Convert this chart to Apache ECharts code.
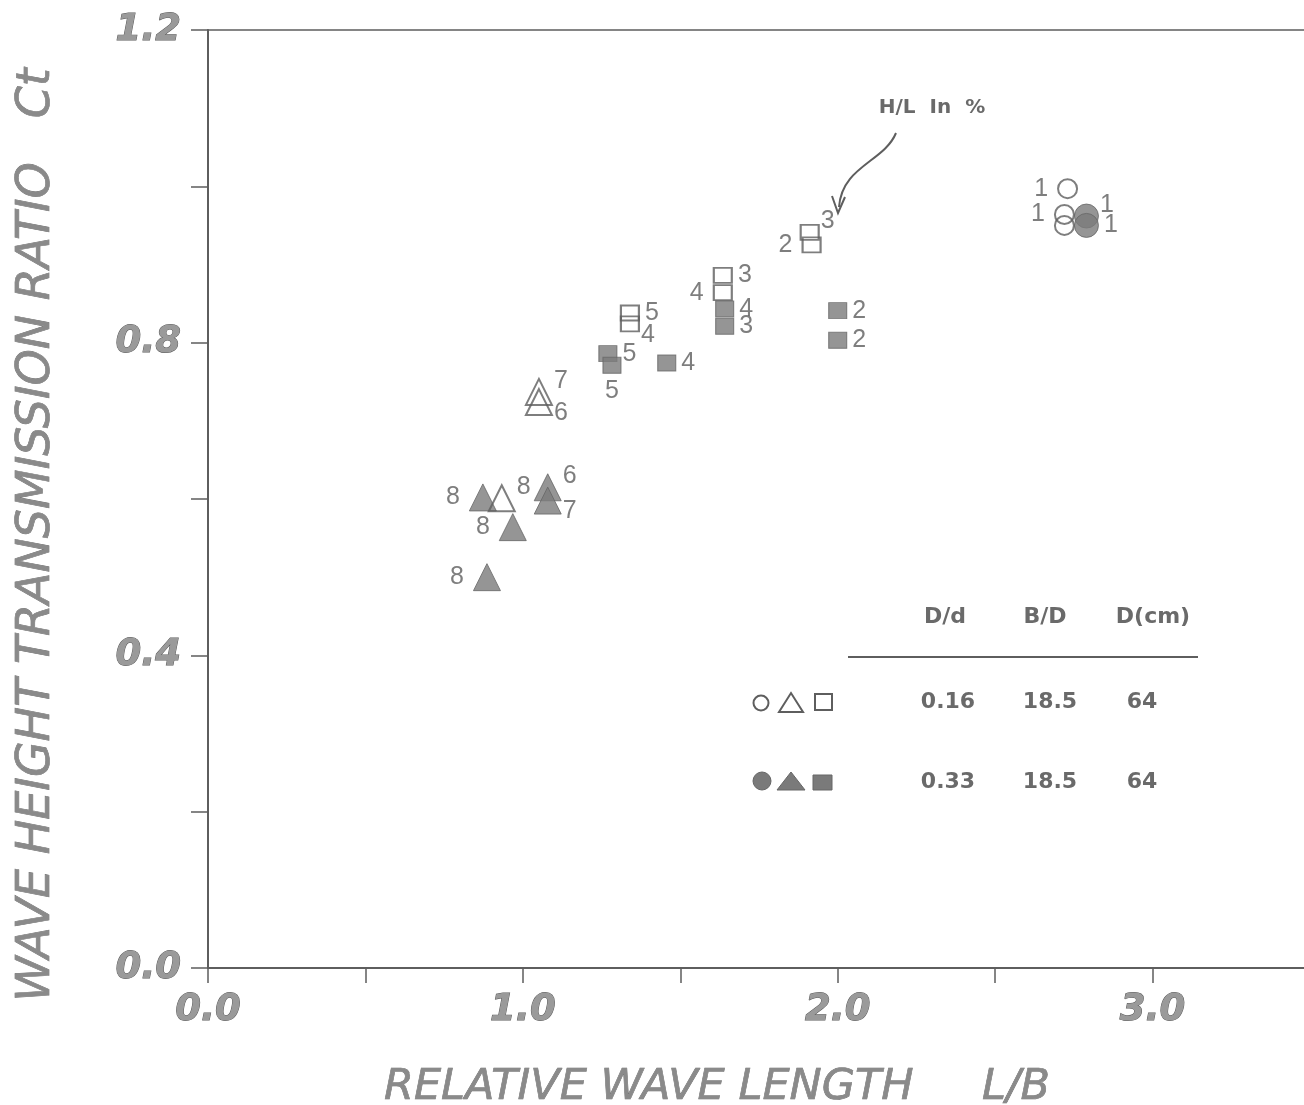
<!DOCTYPE html>
<html>
<head>
<meta charset="utf-8">
<script src="https://cdn.jsdelivr.net/npm/echarts@6/dist/echarts.min.js"></script>
<style>
html,body{margin:0;padding:0;background:#fff;}
#chart{width:1304px;height:1105px;}
</style>
</head>
<body>
<div id="chart"></div>
<script>
// ---- Data ----
const xTickLabels = ['0.0', '1.0', '2.0', '3.0'];
const yTickLabels = ['0.0', '0.4', '0.8', '1.2'];

// D/d = 0.16 (open symbols)
const openCircleX = [2.73, 2.72, 2.72];
const openCircleY = [0.997, 0.964, 0.950];
const openCircleLabel = ['1', '1', ''];
const openCircleSide = ['l', 'l', 'l'];

const openTriangleX = [1.051, 1.051, 0.933];
const openTriangleY = [0.737, 0.724, 0.601];
const openTriangleLabel = ['7', '6', '8'];
const openTriangleSide = ['tr', 'br', 'tr'];

const openSquareX = [1.911, 1.917, 1.635, 1.635, 1.340, 1.340];
const openSquareY = [0.941, 0.925, 0.886, 0.864, 0.838, 0.824];
const openSquareLabel = ['3', '2', '3', '4', '5', '4'];
const openSquareSide = ['tr', 'l', 'r', 'l', 'r', 'br'];

// D/d = 0.33 (filled symbols)
const filledCircleX = [2.79, 2.79];
const filledCircleY = [0.962, 0.950];
const filledCircleLabel = ['1', '1'];
const filledCircleSide = ['tr', 'r'];

const filledTriangleX = [1.079, 1.079, 0.873, 0.968, 0.886];
const filledTriangleY = [0.615, 0.598, 0.602, 0.564, 0.500];
const filledTriangleLabel = ['6', '7', '8', '8', '8'];
const filledTriangleSide = ['tr', 'br', 'l', 'l', 'l'];

const filledSquareX = [2.0, 2.0, 1.641, 1.641, 1.270, 1.283, 1.457];
const filledSquareY = [0.841, 0.803, 0.843, 0.821, 0.786, 0.771, 0.774];
const filledSquareLabel = ['2', '2', '4', '3', '5', '5', '4'];
const filledSquareSide = ['r', 'r', 'r', 'r', 'r', 'b', 'r'];

// legend table
const tableHeader = ['D/d', 'B/D', 'D(cm)'];
const tableRowOpen = ['0.16', '18.5', '64'];
const tableRowFilled = ['0.33', '18.5', '64'];

// ---- Styling ----
const INK = '#5e5e5e';
const FILL = '#7a7a7a';

function sideToLabel(side) {
  switch (side) {
    case 'l': return { position: 'left', distance: 9, offset: [0, 0] };
    case 'r': return { position: 'right', distance: 5, offset: [0, 0] };
    case 'tr': return { position: 'right', distance: 1, offset: [0, -11] };
    case 'br': return { position: 'right', distance: 1, offset: [0, 11] };
    case 'b': return { position: 'bottom', distance: 5, offset: [0, 0] };
    default: return { position: 'right' };
  }
}

function buildData(xs, ys, labels, sides) {
  return xs.map((x, i) => ({
    value: [x, ys[i]],
    name: labels[i],
    label: sideToLabel(sides[i])
  }));
}

const labelStyle = {
  show: true,
  formatter: '{b}',
  color: INK,
  fontFamily: 'Liberation Sans, Arial, sans-serif',
  fontSize: 25
};

function mkSeries(name, symbol, size, filled, xs, ys, labels, sides) {
  return {
    name: name,
    type: 'scatter',
    symbol: symbol,
    symbolSize: size,
    itemStyle: filled
      ? { color: FILL, borderColor: '#666', borderWidth: 1 }
      : { color: 'rgba(255,255,255,0)', borderColor: INK, borderWidth: 2 },
    label: labelStyle,
    emphasis: { disabled: true },
    data: buildData(xs, ys, labels, sides),
    z: filled ? 3 : 4
  };
}

const chart = echarts.init(document.getElementById('chart'), null, { renderer: 'canvas' });

const tickFont = {
  color: '#9a9a9a',
  textBorderColor: '#5a5a5a',
  textBorderWidth: 1,
  fontFamily: 'DejaVu Sans, sans-serif',
  fontStyle: 'italic',
  fontWeight: 'bold',
  fontSize: 37
};

const titleFont = {
  color: '#8a8a8a',
  textBorderColor: '#666',
  textBorderWidth: 0.6,
  fontFamily: 'DejaVu Sans, sans-serif',
  fontStyle: 'italic'
};

const option = {
  backgroundColor: '#fff',
  animation: false,
  grid: {
    left: 208, top: 30, width: 1102, height: 938,
    outerBoundsMode: 'none', containLabel: false,
    show: true, borderColor: INK, borderWidth: 1.5, backgroundColor: 'transparent'
  },
  xAxis: {
    type: 'value', min: 0, max: 3.5, interval: 0.5,
    axisLine: { show: true, lineStyle: { color: INK, width: 2 } },
    axisTick: { show: true, inside: false, length: 15, lineStyle: { color: INK, width: 1.5 } },
    splitLine: { show: false },
    axisLabel: Object.assign({
      margin: 24,
      formatter: v => { const s = v.toFixed(1); return xTickLabels.includes(s) ? s : ''; }
    }, tickFont),
    name: 'RELATIVE WAVE LENGTH     L/B',
    nameLocation: 'middle',
    nameGap: 98,
    nameTextStyle: Object.assign({ fontSize: 43, padding: [0, 84, 0, 0] }, titleFont)
  },
  yAxis: {
    type: 'value', min: 0, max: 1.2, interval: 0.2,
    axisLine: { show: true, lineStyle: { color: INK, width: 2 } },
    axisTick: { show: true, inside: false, length: 17, lineStyle: { color: INK, width: 1.5 } },
    splitLine: { show: false },
    axisLabel: Object.assign({
      margin: 27,
      formatter: v => { const s = v.toFixed(1); return yTickLabels.includes(s) ? s : ''; }
    }, tickFont),
    name: 'WAVE HEIGHT TRANSMISSION RATIO   Ct',
    nameLocation: 'middle',
    nameGap: 148,
    nameTextStyle: Object.assign({ fontSize: 46, padding: [0, 72, 0, 0] }, titleFont)
  },
  series: [
    mkSeries('open circle', 'circle', 19, false, openCircleX, openCircleY, openCircleLabel, openCircleSide),
    mkSeries('open triangle', 'triangle', 26, false, openTriangleX, openTriangleY, openTriangleLabel, openTriangleSide),
    mkSeries('open square', 'rect', [18, 15], false, openSquareX, openSquareY, openSquareLabel, openSquareSide),
    mkSeries('filled circle', 'circle', 24, true, filledCircleX, filledCircleY, filledCircleLabel, filledCircleSide),
    mkSeries('filled triangle', 'triangle', 27, true, filledTriangleX, filledTriangleY, filledTriangleLabel, filledTriangleSide),
    mkSeries('filled square', 'rect', [18, 16], true, filledSquareX, filledSquareY, filledSquareLabel, filledSquareSide)
  ]
};

chart.setOption(option);

// ---- Annotations: H/L arrow and the legend table ----
const boldFont = 'bold 20px "DejaVu Sans", sans-serif';
const tblFont = 'bold 22px "DejaVu Sans", sans-serif';
const TXT = '#6a6a6a';
const g = [];
g.push({ type: 'text', x: 932, y: 108, style: { text: 'H/L  In  %', font: boldFont, fill: TXT, align: 'center', verticalAlign: 'middle' } });
g.push({ type: 'bezierCurve', shape: { x1: 896, y1: 133, cpx1: 884, cpy1: 162, x2: 839, y2: 207, cpx2: 842, cpy2: 166 },
  style: { stroke: INK, lineWidth: 2, fill: null } });
g.push({ type: 'polyline', shape: { points: [[832, 196], [838, 213], [845, 197]] }, style: { stroke: INK, lineWidth: 2, fill: null } });

const colX = [945, 1045, 1153];
const valX = [948, 1050, 1142];
tableHeader.forEach((t, i) => g.push({ type: 'text', x: colX[i], y: 617, style: { text: t, font: tblFont, fill: TXT, align: 'center', verticalAlign: 'middle' } }));
g.push({ type: 'line', shape: { x1: 848, y1: 657, x2: 1198, y2: 657 }, style: { stroke: INK, lineWidth: 2 } });
tableRowOpen.forEach((t, i) => g.push({ type: 'text', x: valX[i], y: 702, style: { text: t, font: tblFont, fill: TXT, align: 'center', verticalAlign: 'middle' } }));
tableRowFilled.forEach((t, i) => g.push({ type: 'text', x: valX[i], y: 782, style: { text: t, font: tblFont, fill: TXT, align: 'center', verticalAlign: 'middle' } }));
// legend keys
g.push({ type: 'circle', shape: { cx: 761, cy: 703, r: 7.5 }, style: { fill: 'none', stroke: INK, lineWidth: 2 } });
g.push({ type: 'polygon', shape: { points: [[779, 712], [791, 693], [803, 712]] }, style: { fill: 'none', stroke: INK, lineWidth: 2 } });
g.push({ type: 'rect', shape: { x: 815, y: 694, width: 17, height: 16 }, style: { fill: 'none', stroke: INK, lineWidth: 2 } });
g.push({ type: 'circle', shape: { cx: 762, cy: 781, r: 9 }, style: { fill: FILL, stroke: '#666', lineWidth: 1 } });
g.push({ type: 'polygon', shape: { points: [[777, 790], [791, 772], [805, 790]] }, style: { fill: FILL, stroke: '#666', lineWidth: 1 } });
g.push({ type: 'rect', shape: { x: 813, y: 775, width: 19, height: 15 }, style: { fill: FILL, stroke: '#666', lineWidth: 1 } });

chart.setOption({ graphic: g });
</script>
</body>
</html>
